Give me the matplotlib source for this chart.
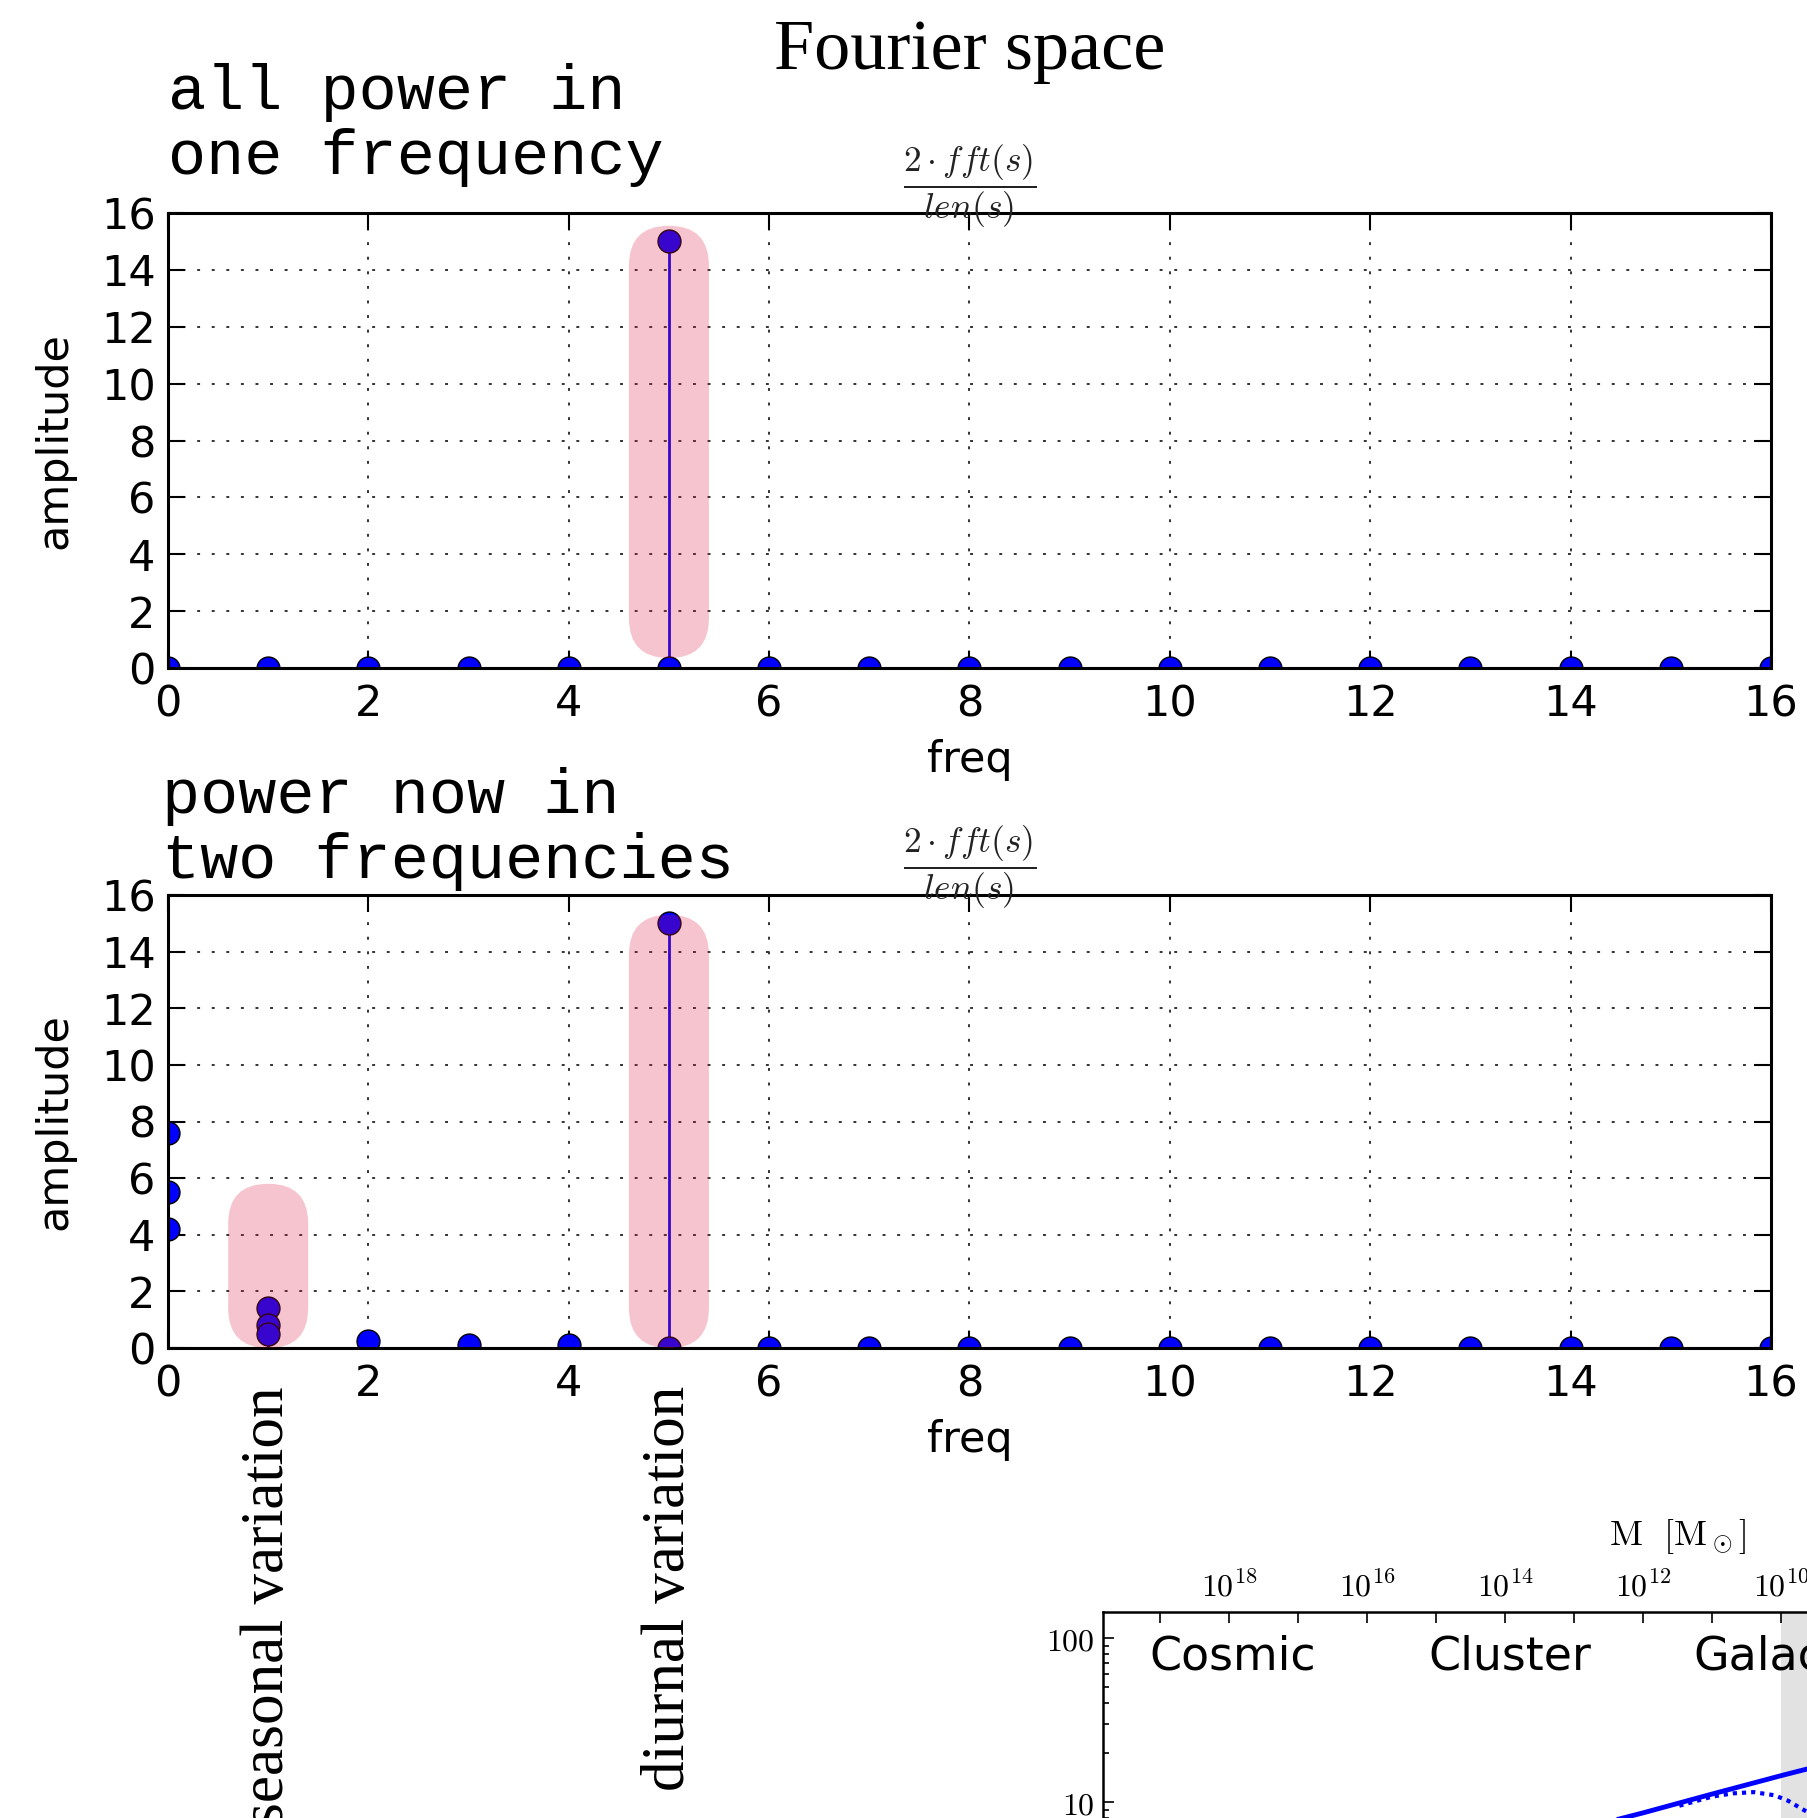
import matplotlib.pyplot as plt
from matplotlib.patches import FancyBboxPatch
from matplotlib.ticker import FixedLocator, NullLocator, LogLocator
from matplotlib.transforms import blended_transform_factory

plt.rcParams['font.family'] = 'DejaVu Sans'
plt.rcParams['mathtext.fontset'] = 'cm'

# ── Data ──────────────────────────────────────────────
# top panel: pure sine -> all power at freq 5
freq_top = [0, 1, 2, 3, 4, 5, 5, 6, 7, 8, 9, 10, 11, 12, 13, 14, 15, 16]
amp_top = [0, 0, 0, 0, 0, 15.0, 0, 0, 0, 0, 0, 0, 0, 0, 0, 0, 0, 0]

# bottom panel: diurnal + seasonal signal
freq_bot = [0, 0, 0, 1, 1, 1, 2, 3, 4, 5, 5, 6, 7, 8, 9, 10, 11, 12, 13, 14, 15, 16]
amp_bot = [7.6, 5.5, 4.2, 1.4, 0.8, 0.5, 0.25, 0.1, 0.1, 15.0, 0.0,
           0, 0, 0, 0, 0, 0, 0, 0, 0, 0, 0]

# highlighted peaks: (freq, low, high)
hl_top = [(5, 0.35, 15.55)]
hl_bot = [(1, 0.0, 5.8), (5, 0.0, 15.3)]

peak_names = ["seasonal variation", "diurnal variation"]
peak_freqs = [1, 5]

# inset (cut off at the corner): halo mass vs ratio
inset_mass_ticks = [18, 16, 14, 12, 10]
inset_regions = ["Cosmic", "Cluster", "Galactic"]
inset_region_mass = [10**19.16, 10**15.12, 10**11.28]
mass_solid = [1e13, 1e12, 1e11, 1e10, 4e9]
ratio_solid = [6.7, 8.6, 11.2, 14.5, 16.0]
mass_dot = [3e11, 1e11, 5e10, 2.5e10, 1.25e10, 8e9, 4e9]
ratio_dot = [9.5, 10.8, 11.3, 11.5, 11.0, 10.2, 8.6]

W, H = 1808, 1818
fig = plt.figure(figsize=(W / 100, H / 100), dpi=100)


def px_axes(l, t, r, b):
    return fig.add_axes([l / W, 1 - b / H, (r - l) / W, (b - t) / H])


def capsule(ax, x, y0, y1, w_px=80):
    bbox = ax.get_position()
    x_per_px = 16 / (bbox.width * W)
    y_per_px = 16 / (bbox.height * H)
    w = w_px * x_per_px
    p = FancyBboxPatch((x - w / 2, y0), w, y1 - y0,
                       boxstyle=f"round,pad=0,rounding_size={w / 2}",
                       mutation_aspect=y_per_px / x_per_px,
                       transform=ax.transData, facecolor='crimson',
                       edgecolor='none', alpha=0.25, zorder=5)
    ax.add_patch(p)


def fft_panel(ax, freq, amp, highlights):
    markerline, stemlines, baseline = ax.stem(freq, amp, linefmt='b-',
                                              markerfmt='bo', basefmt='r-')
    markerline.set_markersize(16.5)
    markerline.set_markeredgecolor('k')
    markerline.set_markeredgewidth(1)
    markerline.set_clip_on(True)
    stemlines.set_linewidth(2)
    baseline.set_linewidth(1.5)
    baseline.set_color('#d08080')
    ax.set_xlim(0, 16)
    ax.set_ylim(0, 16)
    ax.set_xticks(range(0, 17, 2))
    ax.set_yticks(range(0, 17, 2))
    ax.grid(True, color='#333333', linestyle=(0, (1.5, 6)), linewidth=1.4)
    ax.tick_params(direction='in', top=True, right=True, length=12,
                   width=1.5, labelsize=31)
    ax.tick_params(axis='x', pad=11)
    ax.tick_params(axis='y', pad=9)
    for s in ax.spines.values():
        s.set_linewidth(2.2)
    ax.set_xlabel("freq", fontsize=31, labelpad=10)
    ax.set_ylabel("amplitude", fontsize=31, labelpad=18)
    for x, y0, y1 in highlights:
        capsule(ax, x, y0, y1)


ax1 = px_axes(168, 213, 1771, 668)
ax2 = px_axes(168, 895, 1771, 1348)
fft_panel(ax1, freq_top, amp_top, hl_top)
fft_panel(ax2, freq_bot, amp_bot, hl_bot)

frac = r'$\dfrac{2 \cdot fft(s)}{len(s)}$'
fig.text(970 / W, 1 - 186 / H, frac, fontsize=25.5, ha='center', va='center',
         color='#222222')
fig.text(970 / W, 1 - 867 / H, frac, fontsize=25.5, ha='center', va='center',
         color='#222222')

fig.text(970 / W, 1 - 52 / H, "Fourier space", fontsize=52,
         family='Liberation Serif', ha='center', va='center')
fig.text(168 / W, 1 - 174 / H, "all power in\none frequency", fontsize=45.7,
         family='Liberation Mono', ha='left', va='baseline', linespacing=1.13)
fig.text(162 / W, 1 - 878 / H, "power now in\ntwo frequencies", fontsize=45.7,
         family='Liberation Mono', ha='left', va='baseline', linespacing=1.13)

tr = blended_transform_factory(ax2.transData, fig.transFigure)
for name, f in zip(peak_names, peak_freqs):
    ax2.text(f, 1 - 1386 / H, name, transform=tr, rotation=90, fontsize=44,
             family='Liberation Serif', ha='center', va='top')

# ── Inset (bottom right, runs off the page) ───────────
ax3 = px_axes(1103, 1612, 2200, 2300)
ax3.set_xscale('log')
ax3.set_yscale('log')
ax3.set_xlim(10**19.83, 10**3.93)
ax3.set_ylim(10**-2.036, 10**2.159)
ax3.axvspan(1e10, 10**3.93, color='#e2e2e2', zorder=0, lw=0)
ax3.plot(mass_solid, ratio_solid, color='blue', lw=3.5)
ax3.plot(mass_dot, ratio_dot, color='blue', lw=3, linestyle=(0, (1, 1.2)))
ax3.xaxis.tick_top()
ax3.xaxis.set_major_locator(FixedLocator([10.0**k for k in range(4, 20)]))
ax3.xaxis.set_minor_locator(NullLocator())
ax3.set_xticklabels([rf'$10^{{{k}}}$' if k in inset_mass_ticks else ''
                     for k in range(4, 20)])
ax3.yaxis.set_major_locator(FixedLocator([0.01, 0.1, 1, 10, 100]))
ax3.yaxis.set_minor_locator(LogLocator(subs=range(2, 10)))
ax3.set_yticklabels(['', '', '', r'$10$', r'$100$'])
ax3.tick_params(direction='in', which='both', labelsize=23, width=1.2)
ax3.tick_params(which='major', length=8, pad=6)
ax3.tick_params(which='minor', length=4)
for s in ax3.spines.values():
    s.set_linewidth(1.8)
for name, m in zip(inset_regions, inset_region_mass):
    ax3.text(m, 77, name, fontsize=33, ha='left', va='center')
tr3 = blended_transform_factory(ax3.transData, fig.transFigure)
ax3.text(10**11.5, 1 - 1537 / H, r'$\mathrm{M}\ \ [\mathrm{M}_\odot]$',
         transform=tr3, fontsize=26, ha='center', va='center')

fig.savefig("out.png", dpi=100)
